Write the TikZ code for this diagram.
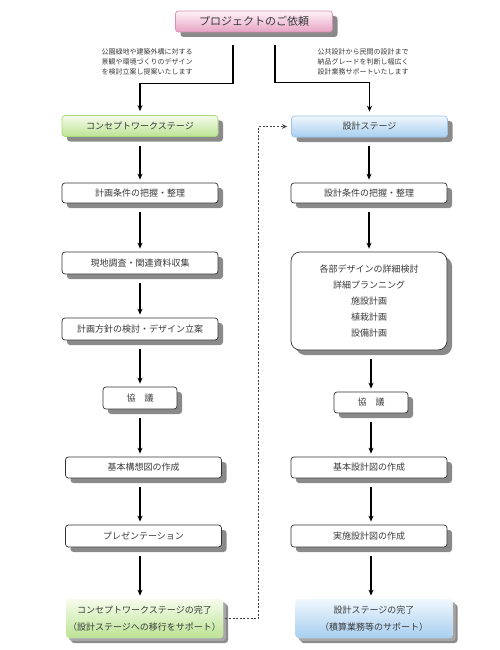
\documentclass[tikz,border=0pt]{standalone}
\usepackage{fontspec}
\setmainfont{Noto Sans CJK JP}
\usetikzlibrary{arrows.meta,shadows,calc}
\definecolor{txt}{HTML}{3A3A3A}
\definecolor{shd}{HTML}{8A8A8A}
\definecolor{gtop}{HTML}{F6FCEC}
\definecolor{gbot}{HTML}{BCE394}
\definecolor{gbrd}{HTML}{A9D77E}
\definecolor{btop}{HTML}{F0F7FD}
\definecolor{bbot}{HTML}{A7CFF0}
\definecolor{bbrd}{HTML}{9CC5E6}
\definecolor{ptop}{HTML}{FDF2F7}
\definecolor{pbot}{HTML}{E8A4C4}
\definecolor{pbrd}{HTML}{D88EB2}
\tikzset{
  x=1pt, y=-1pt,
  box/.style={draw=black!80, line width=0.7pt, rounded corners=3pt, fill=white,
    minimum width=156pt, minimum height=21pt, inner sep=0pt, text=txt,
    font=\fontsize{9}{11}\selectfont,
    drop shadow={shadow xshift=5pt, shadow yshift=-5pt, fill=shd, opacity=1}},
  greenbox/.style={box, draw=gbrd, top color=gtop, bottom color=gbot},
  bluebox/.style={box, draw=bbrd, top color=btop, bottom color=bbot},
  pinkbox/.style={box, draw=pbrd, top color=ptop, bottom color=pbot,
    font=\fontsize{11}{13}\selectfont, minimum width=157pt},
  endbox/.style={box, draw=none, minimum width=157pt, minimum height=39pt,
    align=center, font=\fontsize{9}{17}\selectfont,
    drop shadow={shadow xshift=3pt, shadow yshift=-3pt, fill=black!35, opacity=1}},
  lbl/.style={align=center, text=txt, font=\fontsize{7}{10}\selectfont, inner sep=0pt},
  arr/.style={-{Stealth[length=6pt,width=5pt]}, line width=1.1pt, black,
    shorten <=9pt, shorten >=3pt},
  dasharr/.style={-{Stealth[length=5pt,width=4.5pt]}, line width=0.8pt, black!75,
    dash pattern=on 2pt off 1.6pt, shorten <=2pt, shorten >=4pt},
}
\begin{document}
\begin{tikzpicture}
\useasboundingbox (0,0) rectangle (500,650);

% top
\node[pinkbox] (top) at (254,21.5) {プロジェクトのご依頼};
\node[lbl] (lblL) at (147,62) {公園緑地や建築外構に対する\\景観や環境づくりのデザイン\\を検討立案し提案いたします};
\node[lbl] (lblR) at (363,62) {公共設計から民間の設計まで\\納品グレードを判断し幅広く\\設計業務サポートいたします};

% left column
\node[greenbox] (concept) at (140,126) {コンセプトワークステージ};
\node[box, minimum height=20pt] (l2) at (140,193) {計画条件の把握・整理};
\node[box, minimum height=22pt] (l3) at (140,263) {現地調査・関連資料収集};
\node[box, minimum height=22pt] (l4) at (140,329) {計画方針の検討・デザイン立案};
\node[box, minimum width=74pt, minimum height=22pt] (l5) at (140,398) {協　議};
\node[box] (l6) at (143.5,467.5) {基本構想図の作成};
\node[box, minimum height=22pt] (l7) at (143.5,536) {プレゼンテーション};
\node[endbox, top color=gtop, bottom color=gbot] (l8) at (144.5,618.5) {コンセプトワークステージの完了\\（設計ステージへの移行をサポート）};

% right column
\node[bluebox] (design) at (369.5,126.5) {設計ステージ};
\node[box, minimum height=20pt] (r2) at (369,193) {設計条件の把握・整理};
\node[box, minimum height=98pt, rounded corners=9pt, align=center,
  font=\fontsize{9}{16}\selectfont] (r3) at (369,301)
  {各部デザインの詳細検討\\詳細プランニング\\施設計画\\植栽計画\\設備計画};
\node[box, minimum width=74pt, minimum height=21pt] (r4) at (371,402.5) {協　議};
\node[box] (r5) at (369,467.5) {基本設計図の作成};
\node[box, minimum height=22pt] (r6) at (369,536) {実施設計図の作成};
\node[endbox, top color=btop, bottom color=bbot] (r7) at (374,618.5) {設計ステージの完了\\（積算業務等のサポート）};

% branches from top
\draw[arr, shorten <=0pt, shorten >=4pt] ([xshift=-21pt,yshift=-13pt]top.south) |- ([yshift=32pt]concept.north) -- (concept.north);
\draw[arr, shorten <=0pt, shorten >=4pt] ([xshift=21pt,yshift=-13pt]top.south) |- ([yshift=33pt]design.north) -- (design.north);

% left arrows
\draw[arr] (concept.south) -- (l2.north);
\draw[arr] (l2.south) -- (l3.north);
\draw[arr] (l3.south) -- (l4.north);
\draw[arr] (l4.south) -- (l5.north);
\draw[arr] (l5.south) -- (l5.south |- l6.north);
\draw[arr] (l6.south -| l5) -- (l7.north -| l5);
\draw[arr] (l7.south -| l5) -- (l8.north -| l5);

% right arrows
\draw[arr] (design.south -| r2) -- (r2.north);
\draw[arr] (r2.south) -- (r3.north);
\draw[arr] (r3.south -| r4) -- (r4.north);
\draw[arr] (r4.south) -- (r4.south |- r5.north);
\draw[arr] (r5.south -| r4) -- (r6.north -| r4);
\draw[arr] (r6.south -| r4) -- (r7.north -| r4);

% dashed transfer
\draw[dasharr] (l8.east) -- ++(35,0) |- (design.west);
\end{tikzpicture}
\end{document}
